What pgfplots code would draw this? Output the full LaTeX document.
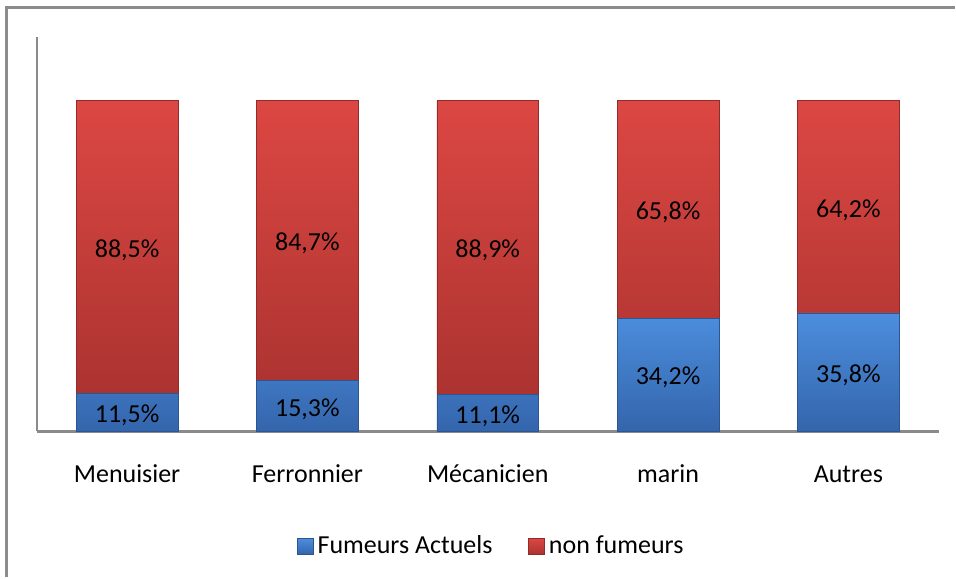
\documentclass[border=0pt]{standalone}
\usepackage{fontspec}
\setmainfont{Carlito}
\usepackage{pgfplots}
\usepackage{pgfplotstable}
\pgfplotsset{compat=1.18}

\definecolor{redtop}{HTML}{DC4743}
\definecolor{redbot}{HTML}{AC3330}
\definecolor{bluetop}{HTML}{4C8EDD}
\definecolor{bluebot}{HTML}{3465AC}
\definecolor{framegray}{HTML}{8C8C8C}
\definecolor{axisgray}{HTML}{8A8A8A}

\newcommand{\cf}{\fontsize{13}{15}\selectfont}

\pgfplotstableread{
x f n
0 11.5 88.5
1 15.3 84.7
2 11.1 88.9
3 34.2 65.8
4 35.8 64.2
}\smoke

\pgfplotsset{
  common/.style={
    at={(0pt,0pt)}, anchor=south west,
    scale only axis, width=451.5pt, height=197.5pt,
    xmin=-0.5, xmax=4.5, ymin=0, ymax=119.3,
    clip=false,
  },
}

\begin{document}
\begin{tikzpicture}
% page frame (left and top edges only) and page size
\path (-18.5pt,-73pt) rectangle (459.5pt,216pt);
\draw[line width=1.5pt, framegray] (-15pt,-73pt) -- (-15pt,212pt) -- (459.5pt,212pt);
\begin{axis}[
  common,
  ybar stacked, bar width=51pt,
  axis x line*=bottom, axis y line*=left,
  axis line style={-, draw=axisgray, line width=1.2pt},
  ytick=\empty,
  xtick={0,1,2,3,4},
  xticklabels={Menuisier,Ferronnier,Mécanicien,marin,Autres},
  major tick length=0pt,
  xticklabel style={font=\cf, anchor=base, yshift=-25.5pt},
  legend style={at={(0.505,-0.291)}, anchor=center, draw=none, font=\cf,
    legend columns=2,
    /tikz/every even column/.append style={column sep=16pt}},
  legend image code/.code={\path[#1] (0pt,-4pt) rectangle (8pt,4pt);},
]
\addplot[top color=bluetop, bottom color=bluebot, draw=bluebot!85!black, line width=0.3pt]
  table[x=x, y=f] {\smoke};
\addlegendentry{Fumeurs Actuels}
\addplot[top color=redtop, bottom color=redbot, draw=redbot!85!black, line width=0.3pt]
  table[x=x, y=n] {\smoke};
\addlegendentry{non fumeurs}
\end{axis}
% value labels, centred in each segment
\begin{axis}[
  common, hide axis,
  point meta=explicit,
  nodes near coords={\pgfmathprintnumber[use comma,fixed,fixed zerofill,precision=1]{\pgfplotspointmeta}\%},
  /pgf/number format/assume math mode=true,
  every node near coord/.append style={anchor=center, font=\cf, black, inner sep=0pt, yshift=-1.5pt},
]
\addplot[only marks, mark=none] table[x=x, y expr=\thisrow{f}/2, meta=f] {\smoke};
\addplot[only marks, mark=none] table[x=x, y expr=\thisrow{f}+\thisrow{n}/2, meta=n] {\smoke};
\end{axis}
\end{tikzpicture}
\end{document}
